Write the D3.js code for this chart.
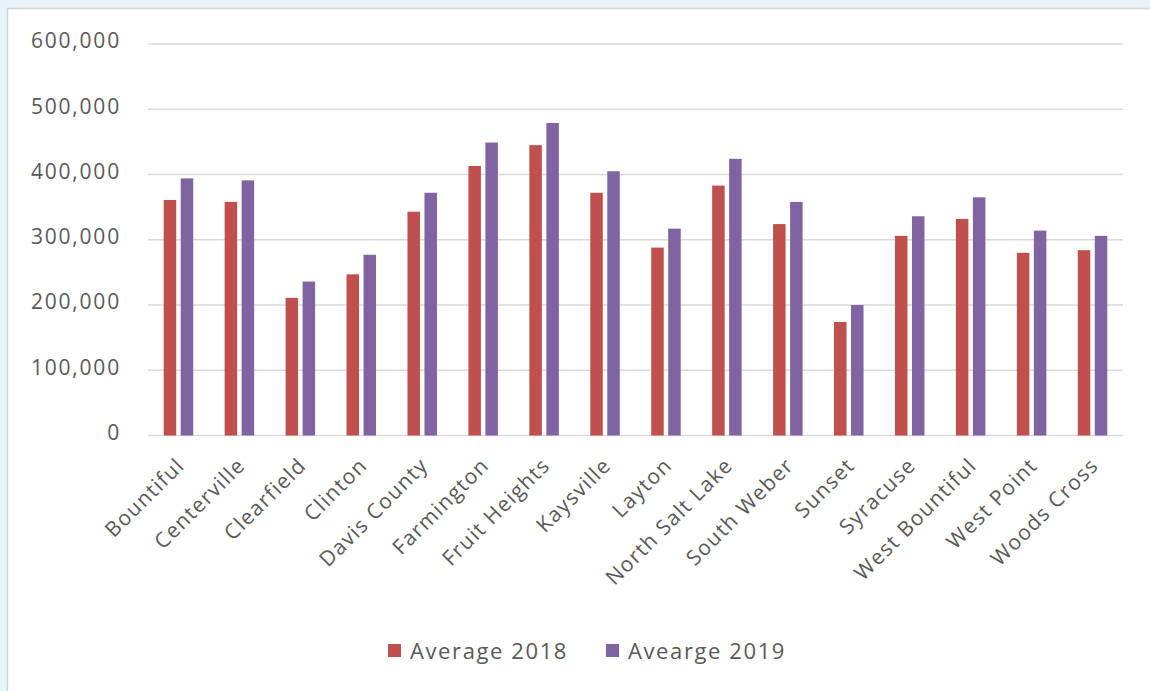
<!DOCTYPE html>
<html><head><meta charset="utf-8">
<script src="https://cdn.jsdelivr.net/npm/d3@7"></script>
<style>
html,body{margin:0;padding:0;background:#e7f3fb;}
svg{display:block;}
</style></head>
<body>
<svg id="c" width="1150" height="691"></svg>
<script>
const categories = ["Bountiful","Centerville","Clearfield","Clinton","Davis County","Farmington","Fruit Heights","Kaysville","Layton","North Salt Lake","South Weber","Sunset","Syracuse","West Bountiful","West Point","Woods Cross"];
const avg2018 = [361000,358000,211000,247000,343000,413000,445000,372000,288000,383000,324000,174000,306000,332000,280000,284000];
const avg2019 = [394000,391000,236000,277000,372000,449000,479000,405000,317000,424000,358000,200000,336000,365000,314000,306000];
const seriesNames = ["Average 2018","Avearge 2019"];
const seriesColors = ["#c0504d","#8064a2"];
const yTicks = [0,100000,200000,300000,400000,500000,600000];

(function(){
const svg = d3.select("#c");
const font = "'Open Sans', sans-serif";
const textColor = "#595959";

svg.append("rect").attr("x",7.5).attr("y",8.5).attr("width",1160).attr("height",700)
  .attr("fill","#fff").attr("stroke","#d4d4d4").attr("stroke-width",1.5);

const pLeft = 148, pRight = 1123, pTop = 44, pBottom = 435.5;
const x = d3.scaleBand().domain(categories).range([pLeft,pRight]).padding(0);
const y = d3.scaleLinear().domain([0,600000]).range([pBottom,pTop]);

svg.append("g").selectAll("line").data(yTicks).join("line")
  .attr("x1",pLeft).attr("x2",pRight)
  .attr("y1",d=>y(d)).attr("y2",d=>y(d))
  .attr("stroke","#d9d9d9").attr("stroke-width",1.5);

const fmt = d3.format(",");
svg.append("g").selectAll("text").data(yTicks).join("text")
  .attr("x",121).attr("y",d=>y(d)-3).attr("dy","0.35em")
  .attr("text-anchor","end").attr("font-family",font).attr("font-size",21)
  .attr("letter-spacing",1.8)
  .attr("fill",textColor).text(d=>fmt(d));

const bw = 12.5, gap = 4.5;
[avg2018, avg2019].forEach((vals,si)=>{
  svg.append("g").selectAll("rect").data(vals).join("rect")
    .attr("x",(d,i)=>x(categories[i]) + x.bandwidth()/2 - bw - gap/2 + si*(bw+gap))
    .attr("y",d=>y(d)).attr("width",bw).attr("height",d=>y(0)-y(d))
    .attr("fill",seriesColors[si]);
});

svg.append("g").selectAll("text").data(categories).join("text")
  .attr("transform",d=>`translate(${x(d)+x.bandwidth()/2+2},${pBottom+26}) rotate(-45)`)
  .attr("text-anchor","end").attr("dy","0.35em")
  .attr("font-family",font).attr("font-size",21).attr("letter-spacing",1.3)
  .attr("fill",textColor).text(d=>d);

const legendX = [388, 606];
seriesNames.forEach((n,i)=>{
  svg.append("rect").attr("x",legendX[i]).attr("y",644).attr("width",13).attr("height",13).attr("fill",seriesColors[i]);
  svg.append("text").attr("x",legendX[i]+22).attr("y",651).attr("dy","0.35em")
    .attr("font-family",font).attr("font-size",22).attr("letter-spacing",1.6)
    .attr("fill",textColor).text(n);
});
})();
</script>
</body></html>
